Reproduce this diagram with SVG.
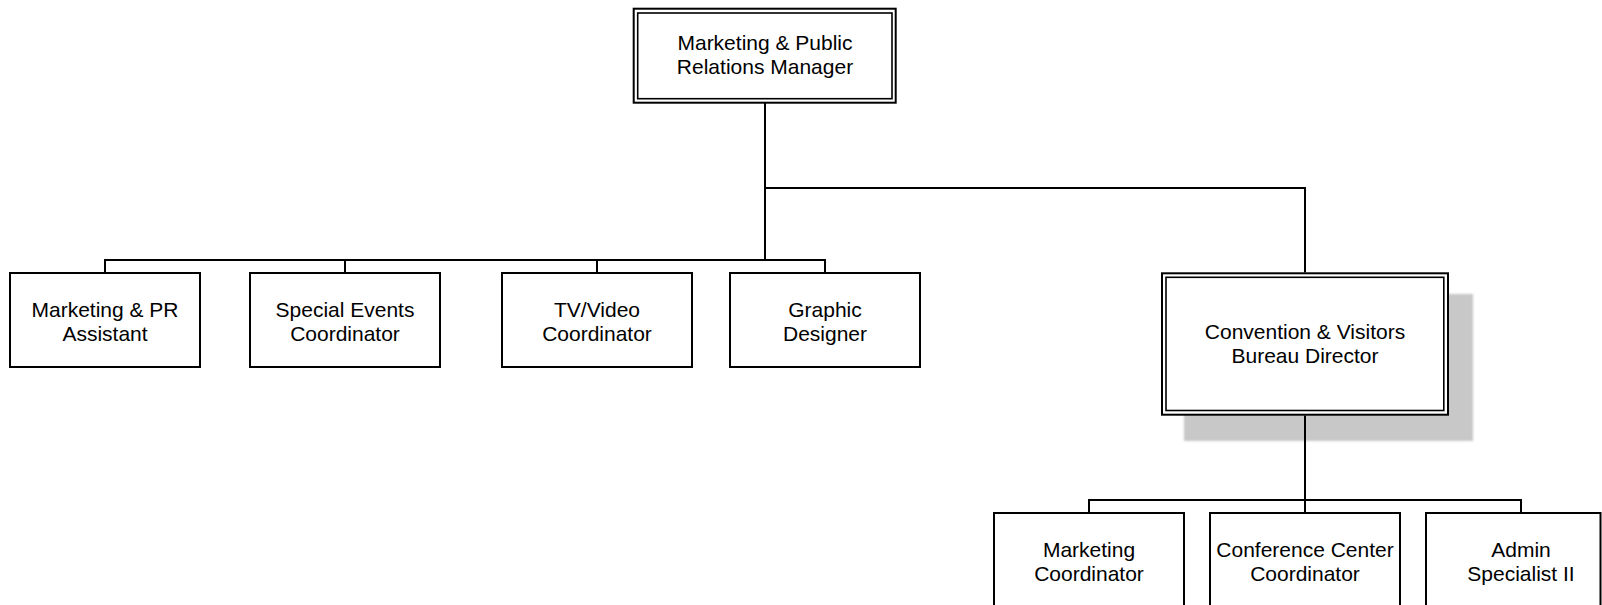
<svg xmlns="http://www.w3.org/2000/svg" width="1602" height="605" viewBox="0 0 1602 605">
  <style>
    .box { fill: #ffffff; stroke: #000000; stroke-width: 2; }
    .inner { fill: none; stroke: #000000; stroke-width: 1.6; }
    .conn { fill: none; stroke: #000000; stroke-width: 2; }
    .shadow { fill: #c8c8c8; }
    text { font-family: "Liberation Sans", Arial, sans-serif; font-size: 21px; fill: #000000; text-anchor: middle; }
  </style>
  <defs>
    <filter id="soft" x="-5%" y="-5%" width="110%" height="110%">
      <feGaussianBlur stdDeviation="1"/>
    </filter>
  </defs>
  <rect width="1602" height="605" fill="#ffffff"/>

  <g id="node-manager">
    <rect class="box" x="633.7" y="8.7" width="262" height="94"/>
    <rect class="inner" x="637.7" y="13" width="254.3" height="85.7"/>
    <text x="765" y="50">Marketing &amp; Public</text>
    <text x="765" y="74">Relations Manager</text>
  </g>

  <g id="node-pr-assistant">
    <rect class="box" x="10" y="273" width="190" height="94"/>
    <text x="105" y="317">Marketing &amp; PR</text>
    <text x="105" y="341">Assistant</text>
  </g>

  <g id="node-special-events">
    <rect class="box" x="250" y="273" width="190" height="94"/>
    <text x="345" y="317">Special Events</text>
    <text x="345" y="341">Coordinator</text>
  </g>

  <g id="node-tv-video">
    <rect class="box" x="502" y="273" width="190" height="94"/>
    <text x="597" y="317">TV/Video</text>
    <text x="597" y="341">Coordinator</text>
  </g>

  <g id="node-graphic-designer">
    <rect class="box" x="730" y="273" width="190" height="94"/>
    <text x="825" y="317">Graphic</text>
    <text x="825" y="341">Designer</text>
  </g>

  <g id="node-cvb-director">
    <rect class="shadow" x="1184" y="294" width="289" height="147" filter="url(#soft)"/>
    <rect class="box" x="1162" y="273.3" width="286" height="141.4"/>
    <rect class="inner" x="1166" y="277.3" width="277.8" height="133.2"/>
    <text x="1305" y="339">Convention &amp; Visitors</text>
    <text x="1305" y="363">Bureau Director</text>
  </g>

  <g id="node-marketing-coordinator">
    <rect class="box" x="994" y="513" width="190" height="100"/>
    <text x="1089" y="557">Marketing</text>
    <text x="1089" y="581">Coordinator</text>
  </g>

  <g id="node-conference-center">
    <rect class="box" x="1210" y="513" width="190" height="100"/>
    <text x="1305" y="557">Conference Center</text>
    <text x="1305" y="581">Coordinator</text>
  </g>

  <g id="node-admin-specialist">
    <rect class="box" x="1426" y="513" width="174.5" height="100"/>
    <text x="1521" y="557">Admin</text>
    <text x="1521" y="581">Specialist II</text>
  </g>

  <g id="connectors">
    <path class="conn" d="M765 103 V260"/>
    <path class="conn" d="M105 272 V260 H825 V272"/>
    <path class="conn" d="M345 260 V272"/>
    <path class="conn" d="M597 260 V272"/>
    <path class="conn" d="M765 188 H1305 V272.5"/>
    <path class="conn" d="M1305 415.5 V500"/>
    <path class="conn" d="M1089 512 V500 H1521 V512"/>
    <path class="conn" d="M1305 500 V512"/>
  </g>
</svg>
